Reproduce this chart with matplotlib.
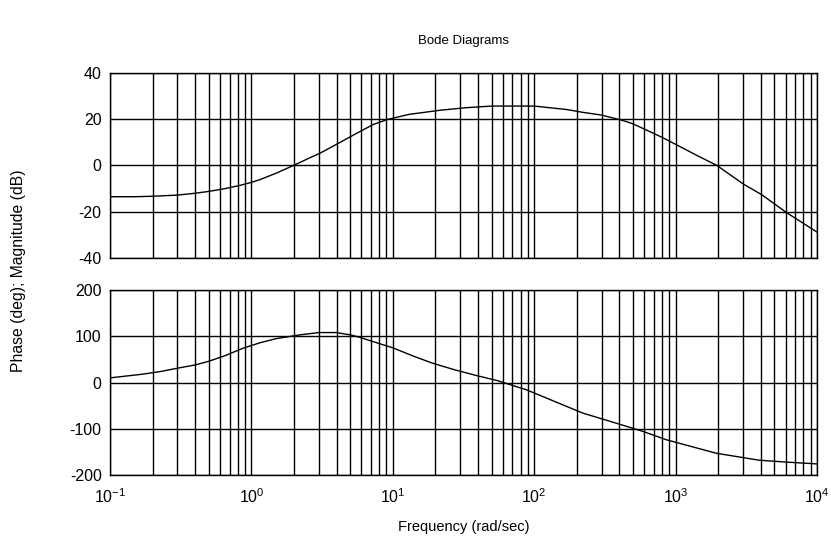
import numpy as np
import matplotlib
matplotlib.use('Agg')
import matplotlib.pyplot as plt

plt.rcParams.update({
    'font.family': ['Liberation Sans', 'DejaVu Sans'],
    'font.size': 10,
    'axes.unicode_minus': False,
    'mathtext.fontset': 'custom',
    'mathtext.rm': 'Liberation Sans',
})

# magnitude (dB)
mag_w = [0.1, 0.15, 0.2, 0.3, 0.4, 0.5, 0.65, 0.83, 1.0, 1.15, 1.5, 2.03, 2.5,
         3.05, 4.12, 5.5, 7.3, 9.3, 13, 21.6, 33, 50, 100, 170, 220, 300, 438,
         500, 608, 800, 1018, 1400, 1960, 3008, 4055, 6095, 10000]
mag_db = [-13.5, -13.5, -13.3, -12.8, -12.0, -11.2, -10.0, -8.6, -7.3, -6.1, -3.3,
          0.3, 2.9, 5.3, 9.6, 13.8, 17.8, 20.0, 22.1, 23.9, 25.0, 25.7, 25.7, 24.2,
          23.0, 21.8, 19.2, 18.0, 15.6, 12.2, 8.9, 4.5, 0.0, -8.0, -12.6, -20.4, -28.8]

# phase (deg)
ph_w = [0.1, 0.13, 0.17, 0.23, 0.3, 0.4, 0.5, 0.65, 0.87, 1.15, 1.5, 2.2, 3, 4,
        5, 5.8, 7.5, 10, 14, 19, 27, 38, 55, 88.6, 150, 220, 400, 591, 865,
        1940, 3900, 6000, 10000]
ph_deg = [10, 14, 18, 24, 31, 38, 46, 58, 74, 86, 95, 103, 108, 108,
          103, 98, 87, 75, 57, 42, 28, 16, 4, -16, -45, -66, -90, -106, -124,
          -153, -168, -172, -176]

fig = plt.figure(figsize=(8.31, 5.42), dpi=100)
ax1 = fig.add_axes([0.1324, 0.524, 0.8508, 0.3413])
ax2 = fig.add_axes([0.1324, 0.1236, 0.8508, 0.3413])

ax1.plot(mag_w, mag_db, color='black', linewidth=1)
ax2.plot(ph_w, ph_deg, color='black', linewidth=1)

for ax in (ax1, ax2):
    ax.set_xscale('log')
    ax.set_xlim(0.1, 1e4)
    ax.grid(True, which='both', axis='x', color='black', linewidth=1)
    ax.grid(True, which='major', axis='y', color='black', linewidth=1)
    ax.tick_params(which='both', direction='in', length=0, labelsize=11.5, pad=6)
    ax.tick_params(axis='x', pad=9)
    for s in ax.spines.values():
        s.set_linewidth(1)

ax1.set_ylim(-40, 40)
ax1.set_yticks([-40, -20, 0, 20, 40])
ax1.tick_params(axis='x', labelbottom=False)

ax2.set_ylim(-200, 200)
ax2.set_yticks([-200, -100, 0, 100, 200])
ax2.set_xticks([0.1, 1, 10, 100, 1000, 10000])

fig.text(0.5575, 0.925, 'Bode Diagrams', ha='center', va='center', fontsize=9.5)
fig.text(0.022, 0.5, 'Phase (deg); Magnitude (dB)', rotation=90, ha='center', va='center', fontsize=11.3)
fig.text(0.5575, 0.028, 'Frequency (rad/sec)', ha='center', va='center', fontsize=10.5)

fig.savefig('out.png', dpi=100)
